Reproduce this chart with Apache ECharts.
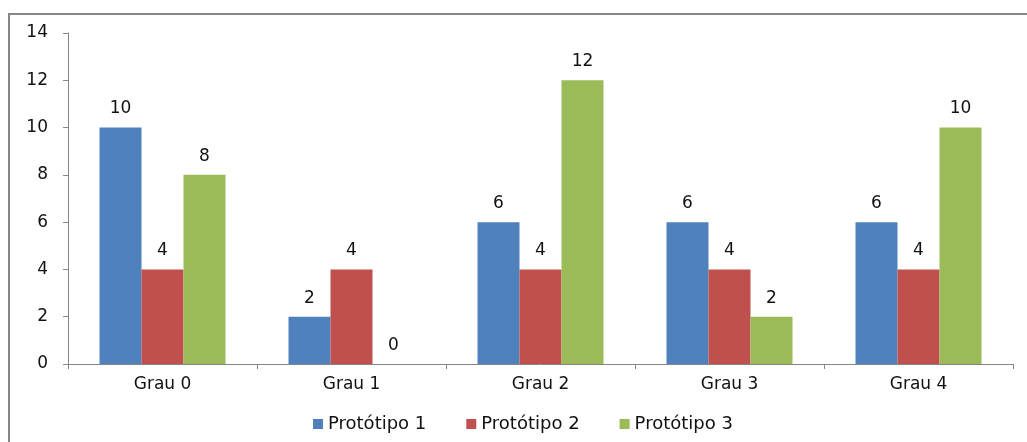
<!DOCTYPE html>
<html>
<head>
<meta charset="utf-8">
<script src="https://cdn.jsdelivr.net/npm/echarts@6/dist/echarts.min.js"></script>
<style>
  html, body { margin: 0; padding: 0; background: #fff; }
  #chart { width: 1027px; height: 442px; }
</style>
</head>
<body>
<div id="chart"></div>
<script>
const categories = ["Grau 0", "Grau 1", "Grau 2", "Grau 3", "Grau 4"];
const prototipo1 = [10, 2, 6, 6, 6];
const prototipo2 = [4, 4, 4, 4, 4];
const prototipo3 = [8, 0, 12, 2, 10];

const font = "DejaVu Sans";
const chart = echarts.init(document.getElementById("chart"));

function barSeries(name, data, color) {
  return {
    name: name,
    type: "bar",
    data: data,
    barWidth: 42,
    barGap: "0%",
    itemStyle: { color: color },
    label: {
      show: true,
      position: "top",
      distance: 10,
      color: "#111",
      fontFamily: font,
      fontSize: 17
    }
  };
}

chart.setOption({
  animation: false,
  textStyle: { fontFamily: font },
  graphic: [{
    type: "rect",
    shape: { x: 9, y: 14, width: 1040, height: 450 },
    style: { fill: "none", stroke: "#868686", lineWidth: 2 },
    silent: true
  }],
  grid: { left: 68, right: 14, top: 33, bottom: 78 },
  legend: {
    bottom: 4,
    left: 308,
    itemWidth: 10,
    itemHeight: 10,
    itemGap: 40,
    icon: "rect",
    textStyle: { color: "#111", fontFamily: font, fontSize: 18 },
    data: ["Protótipo 1", "Protótipo 2", "Protótipo 3"]
  },
  xAxis: {
    type: "category",
    data: categories,
    axisLine: { lineStyle: { color: "#868686" } },
    axisTick: { show: true, length: 5, lineStyle: { color: "#868686" } },
    axisLabel: { color: "#111", fontFamily: font, fontSize: 17, margin: 12 }
  },
  yAxis: {
    type: "value",
    min: 0,
    max: 14,
    interval: 2,
    axisLine: { show: true, lineStyle: { color: "#868686" } },
    axisTick: { show: true, length: 5, lineStyle: { color: "#868686" } },
    splitLine: { show: false },
    axisLabel: { color: "#111", fontFamily: font, fontSize: 17, margin: 20 }
  },
  series: [
    barSeries("Protótipo 1", prototipo1, "#4F81BD"),
    barSeries("Protótipo 2", prototipo2, "#C0504D"),
    barSeries("Protótipo 3", prototipo3, "#9BBB59")
  ]
});
</script>
</body>
</html>
